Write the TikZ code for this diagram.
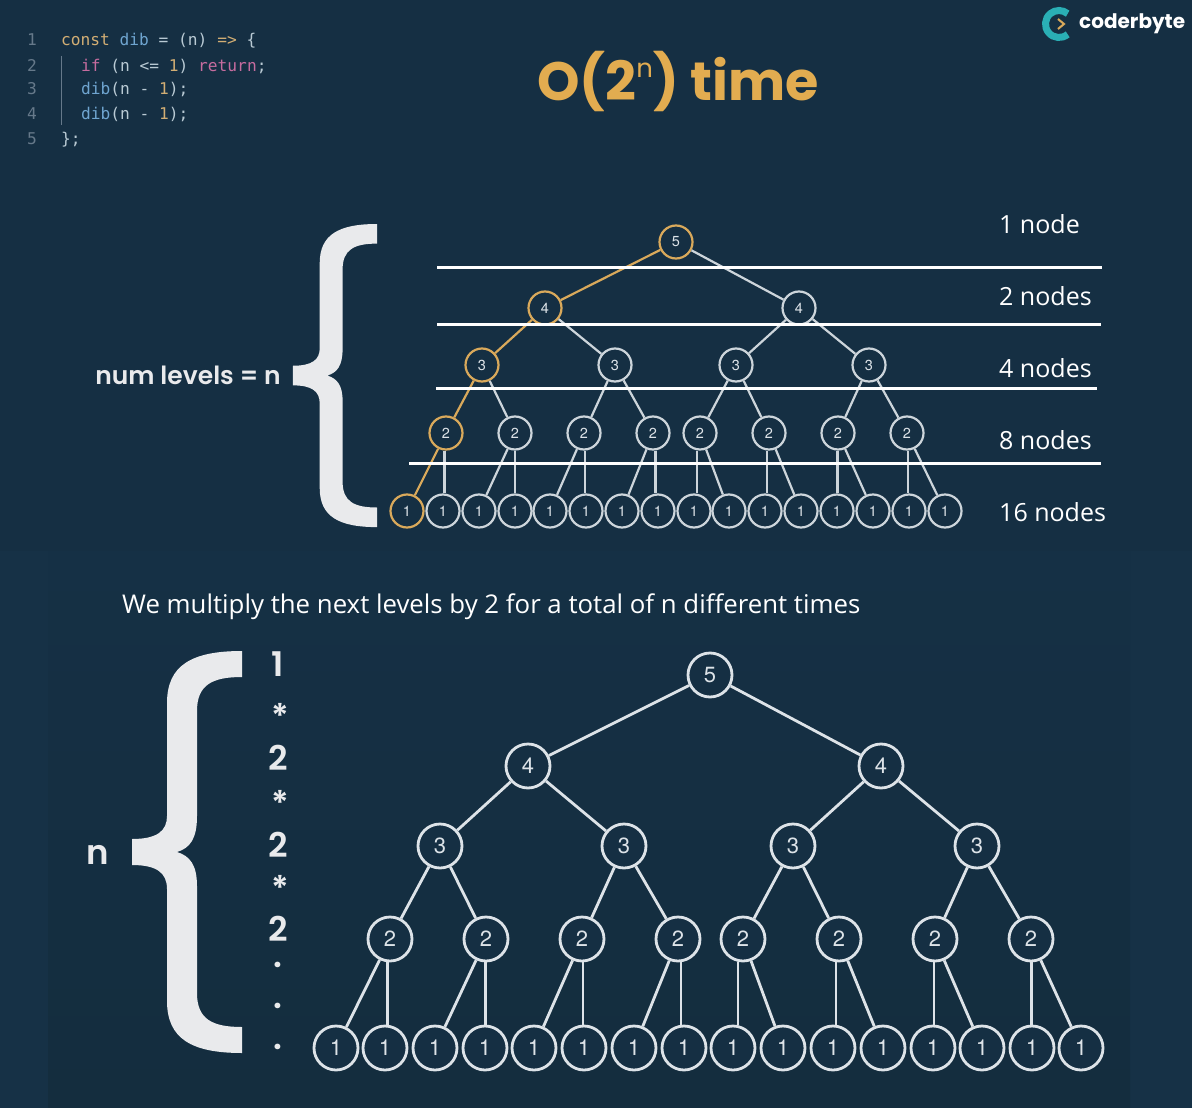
\documentclass[tikz,border=0pt]{standalone}
\usepackage{xcolor}
\usepackage{fontspec}
\setmainfont{Open Sans}
\newfontfamily\titlefont{Poppins}
\newfontfamily\headfont{Poppins}[BoldFont={Poppins SemiBold}]
\newfontfamily\digitfont{TeX Gyre Heros}
\newfontfamily\codefont{DejaVu Sans Mono}
\usetikzlibrary{positioning,calc}
\definecolor{slate}{HTML}{152F43}
\definecolor{slateedge}{HTML}{163146}
\definecolor{slatehigh}{HTML}{153045}
\definecolor{slatelow}{HTML}{142D3E}
\definecolor{pathgold}{HTML}{D9A95B}
\definecolor{titlegold}{HTML}{E2AC50}
\definecolor{treeline}{HTML}{DDE3E8}
\definecolor{topline}{HTML}{CDD5DB}
\definecolor{bracewhite}{HTML}{E9EAEC}
\definecolor{lineno}{HTML}{66798A}
\definecolor{codetext}{HTML}{B9CAD4}
\definecolor{codeblue}{HTML}{6FA5D0}
\definecolor{codepink}{HTML}{C66C9F}
\definecolor{codegold}{HTML}{D2AE74}
\definecolor{logoteal}{HTML}{2AAFB5}
\newcommand{\kwc}[1]{\textcolor{codegold}{#1}}
\newcommand{\kwb}[1]{\textcolor{codeblue}{#1}}
\newcommand{\kwp}[1]{\textcolor{codepink}{#1}}
\newcommand{\treerow}[5]{\foreach \xx [count=\c] in {#5} \node[#1node,#1first\c/.try] (#1-#2-\c) at (\xx,#4) {#3};}
\tikzset{
tnode/.style={circle,draw=topline,fill=slate,line width=2.2pt,minimum size=33pt,inner sep=0pt,text=treeline,font=\digitfont\fontsize{14.5}{14}\selectfont},
bnode/.style={tnode,draw=treeline,line width=2.8pt,minimum size=44pt,font=\digitfont\fontsize{22}{22}\selectfont},
tfirst1/.style={draw=pathgold},
tedge/.style={draw=topline,line width=2.2pt},
bedge/.style={draw=treeline,line width=2.8pt},
hotedge/.style={draw=pathgold,line width=2.2pt},
levelrule/.style={draw=white,line width=3pt},
levellabel/.style={anchor=west,text=white,inner sep=0pt,font=\fontsize{25}{25}\selectfont},
codeline/.style={anchor=base west,inner sep=0pt,text=codetext,font=\codefont\fontsize{16.2}{16}\selectfont},
numline/.style={codeline,text=lineno},
factor/.style={text=bracewhite,inner sep=0pt,font=\headfont\bfseries\fontsize{34}{34}\selectfont},
curly/.pic={\fill[bracewhite] (0,0) -- (0,26) .. controls (-30,26) and (-45,34) .. (-45,60) -- (-45,165) .. controls (-45,188) and (-52,197) .. (-65,201) .. controls (-52,205) and (-45,214) .. (-45,235) -- (-45,342) .. controls (-45,368) and (-30,376) .. (0,376) -- (0,402) .. controls (-50,402) and (-75,388) .. (-75,350) -- (-75,238) .. controls (-75,222) and (-85,214) .. (-110,214) -- (-110,188) .. controls (-85,188) and (-75,180) .. (-75,165) -- (-75,52) .. controls (-75,14) and (-50,0) .. (0,0) -- cycle;}
}
\begin{document}
\begin{tikzpicture}[x=1pt,y=-1pt]
\fill[slate] (0,0) rectangle (1192,1108);
\useasboundingbox (0,0) rectangle (1192,1108);
\fill[slateedge] (0,551) rectangle (1192,1108);
\shade[top color=slatehigh,bottom color=slatelow] (48,551) rectangle (1130,1108);
\draw[lineno,line width=1pt] (61,56) -- (61,125);
\foreach \row/\yy in {1/46,2/71,3/95,4/119,5/144} \node[numline] (num-\row) at (27,\yy) {\row};
\node[codeline] (code-1) at (61,46) {\kwc{const} \kwb{dib} = (n) \kwc{=>} \{};
\node[codeline] (code-2) at (81,71) {\kwp{if} (n <= \kwc{1}) \kwp{return};};
\node[codeline] (code-3) at (81,95) {\kwb{dib}(n - \kwc{1});};
\node[codeline] (code-4) at (81,119) {\kwb{dib}(n - \kwc{1});};
\node[codeline] (code-5) at (61,144) {\};};
\node[anchor=base,text=titlegold,inner sep=0pt,font=\titlefont\bfseries\fontsize{54}{54}\selectfont] (title) at (678,100) {O(2\raisebox{23pt}{\mdseries\fontsize{26}{26}\selectfont n}) time};
\draw[logoteal,line width=7pt] (1059,24) ++(50:13.5) arc (50:310:13.5);
\draw[pathgold,line width=2pt] (1058,19) -- (1064,24) -- (1058,29);
\node[anchor=west,text=white,inner sep=0pt,font=\titlefont\bfseries\fontsize{20}{20}\selectfont] (logo) at (1079,24) {coderbyte};
\pic[xscale=.764,yscale=.754] at (377,224) {curly};
\node[text=bracewhite,inner sep=0pt,font=\headfont\bfseries\fontsize{25}{24}\selectfont] (levels) at (188,375) {num levels = n};
\treerow{t}{1}{5}{242}{676}
\treerow{t}{2}{4}{308}{545,799}
\treerow{t}{3}{3}{365}{482,615,736,869}
\treerow{t}{4}{2}{433}{446,515,584,653,700,769,838,907}
\treerow{t}{5}{1}{511}{407,443,479,515,550,586,622,658,694,729,765,801,837,873,909,945}
\foreach \a/\b in {1-1/2-2,2-1/3-2,2-2/3-3,2-2/3-4,4-2/5-3,4-3/5-5,4-4/5-7,4-5/5-10,4-6/5-12,4-7/5-14,4-8/5-16,3-1/4-2,3-2/4-3,3-2/4-4,3-3/4-5,3-3/4-6,3-4/4-7,3-4/4-8}
\path[tedge] (t-\a) edge (t-\b);
\foreach \a/\b in {4-1/5-2,4-2/5-4,4-3/5-6,4-4/5-8,4-5/5-9,4-6/5-11,4-7/5-13,4-8/5-15}{
\coordinate (mid) at ($(t-\a)!.5!(t-\b)$);
\draw[tedge] (mid |- t-\a.south) -- (mid |- t-\b.north);}
\path[hotedge] (t-1-1) edge (t-2-1) (t-2-1) edge (t-3-1) (t-3-1) edge (t-4-1) (t-4-1) edge (t-5-1);
\foreach \xa/\xb/\yy in {437/1102/267,437/1101/324,436/1097/388,409/1101/463} \draw[levelrule] (\xa,\yy) -- (\xb,\yy);
\foreach \txt/\yy in {1 node/224,2 nodes/296,4 nodes/368,8 nodes/440,16 nodes/512} \node[levellabel] (count-\yy) at (999,\yy) {\txt};
\node[levellabel,font=\fontsize{25.8}{26}\selectfont] (caption) at (122,607) {We multiply the next levels by 2 for a total of n different times};
\pic at (242,651) {curly};
\node[factor] (n) at (98,855) {n};
\foreach \txt/\yy in {1/664,2/758,2/845,2/929} \node[factor] (f-\yy) at (278,\yy) {\txt};
\foreach \yy in {716,803,888} \node[factor] (s-\yy) at (280,\yy) {*};
\foreach \yy in {967,1008,1049} \node[factor,anchor=base,text height=0pt,text depth=0pt] (d-\yy) at (278,\yy) {.};
\treerow{b}{1}{5}{675}{710}
\treerow{b}{2}{4}{766}{528,881}
\treerow{b}{3}{3}{846}{440,624,793,977}
\treerow{b}{4}{2}{939}{390,486,582,678,743,839,935,1031}
\treerow{b}{5}{1}{1048}{336,385,435,485,534,584,634,684,733,783,833,883,933,982,1032,1081}
\foreach \a/\b in {1-1/2-1,1-1/2-2,2-1/3-1,2-1/3-2,2-2/3-3,2-2/3-4,3-1/4-1,3-1/4-2,3-2/4-3,3-2/4-4,3-3/4-5,3-3/4-6,3-4/4-7,3-4/4-8,4-1/5-1,4-2/5-3,4-3/5-5,4-4/5-7,4-5/5-10,4-6/5-12,4-7/5-14,4-8/5-16}
\path[bedge] (b-\a) edge (b-\b);
\foreach \a/\b in {4-1/5-2,4-2/5-4,4-3/5-6,4-4/5-8,4-5/5-9,4-6/5-11,4-7/5-13,4-8/5-15}{
\coordinate (mid) at ($(b-\a)!.5!(b-\b)$);
\draw[bedge] (mid |- b-\a.south) -- (mid |- b-\b.north);}
\end{tikzpicture}
\end{document}
